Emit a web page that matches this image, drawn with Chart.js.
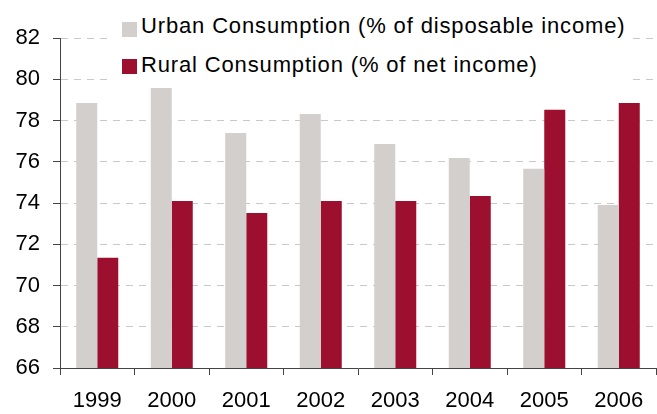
<!DOCTYPE html>
<html>
<head>
<meta charset="utf-8">
<script src="https://cdn.jsdelivr.net/npm/chart.js@4.4.1/dist/chart.umd.min.js"></script>
<style>
  html, body { margin: 0; padding: 0; background: #fff; }
  #wrap { position: relative; width: 657px; height: 414px; }
  #legendBg { position: absolute; left: 112px; top: 10px; width: 516px; height: 78px; background: #fff; }
  .sw { position: absolute; left: 122px; width: 15px; height: 15px; }
  .tx {
    position: absolute; left: 141px; white-space: nowrap;
    font-family: "Liberation Sans", Arial, sans-serif; font-size: 22px; line-height: 22px;
    letter-spacing: 0.85px; color: #000;
  }
</style>
</head>
<body>
<div id="wrap">
  <canvas id="barChart" width="657" height="414"></canvas>
  <div id="legendBg"></div>
</div>
<script>
  // datos del gráfico
  var years = ['1999', '2000', '2001', '2002', '2003', '2004', '2005', '2006'];
  var urban = [78.85, 79.62, 77.39, 78.32, 76.86, 76.18, 75.66, 73.9];
  var rural = [71.35, 74.1, 73.52, 74.1, 74.1, 74.34, 78.52, 78.85];
  var yTicks = [66, 68, 70, 72, 74, 76, 78, 80, 82];

  var urbanLabel = 'Urban Consumption (% of disposable income)';
  var ruralLabel = 'Rural Consumption (% of net income)';
  var urbanColor = '#d3cfcd';
  var ruralColor = '#9c0f2f';

  var font = { family: '"Liberation Sans", Arial, sans-serif', size: 22 };

  var barChartCanvas = document.getElementById('barChart').getContext('2d');

  new Chart(barChartCanvas, {
    type: 'bar',
    data: {
      labels: years,
      datasets: [
        { label: urbanLabel, backgroundColor: urbanColor, data: urban },
        { label: ruralLabel, backgroundColor: ruralColor, data: rural }
      ]
    },
    options: {
      responsive: false,
      animation: false,
      layout: { padding: { top: 38, right: 1, left: 0, bottom: 0 } },
      datasets: { bar: { categoryPercentage: 0.564, barPercentage: 1 } },
      plugins: { legend: { display: false }, tooltip: { enabled: false } },
      scales: {
        x: {
          grid: { offset: true, drawOnChartArea: false, drawTicks: true, tickLength: 7, tickColor: '#444', tickWidth: 1 },
          border: { color: '#444', width: 1 },
          ticks: { color: '#000', font: font, padding: 13, maxRotation: 0 },
          afterFit: function (axis) { axis.height = 46; }
        },
        y: {
          min: 66,
          max: 82,
          afterBuildTicks: function (axis) {
            axis.ticks = yTicks.map(function (v) { return { value: v }; });
          },
          grid: { color: '#c9c9c9', lineWidth: 1, tickLength: 7, tickColor: '#444', tickBorderDash: [] },
          border: { color: '#444', width: 1, dash: [7, 6] },
          ticks: { color: '#000', font: font, padding: 13 },
          afterFit: function (axis) { axis.width = 60; }
        }
      }
    }
  });

  // leyenda en HTML sobre el área del gráfico
  var wrap = document.getElementById('wrap');
  [[urbanLabel, urbanColor, 22, 15], [ruralLabel, ruralColor, 59, 54]].forEach(function (it) {
    var sw = document.createElement('div');
    sw.className = 'sw';
    sw.style.background = it[1];
    sw.style.top = it[2] + 'px';
    var tx = document.createElement('div');
    tx.className = 'tx';
    tx.style.top = it[3] + 'px';
    tx.textContent = it[0];
    wrap.appendChild(sw);
    wrap.appendChild(tx);
  });
</script>
</body>
</html>
